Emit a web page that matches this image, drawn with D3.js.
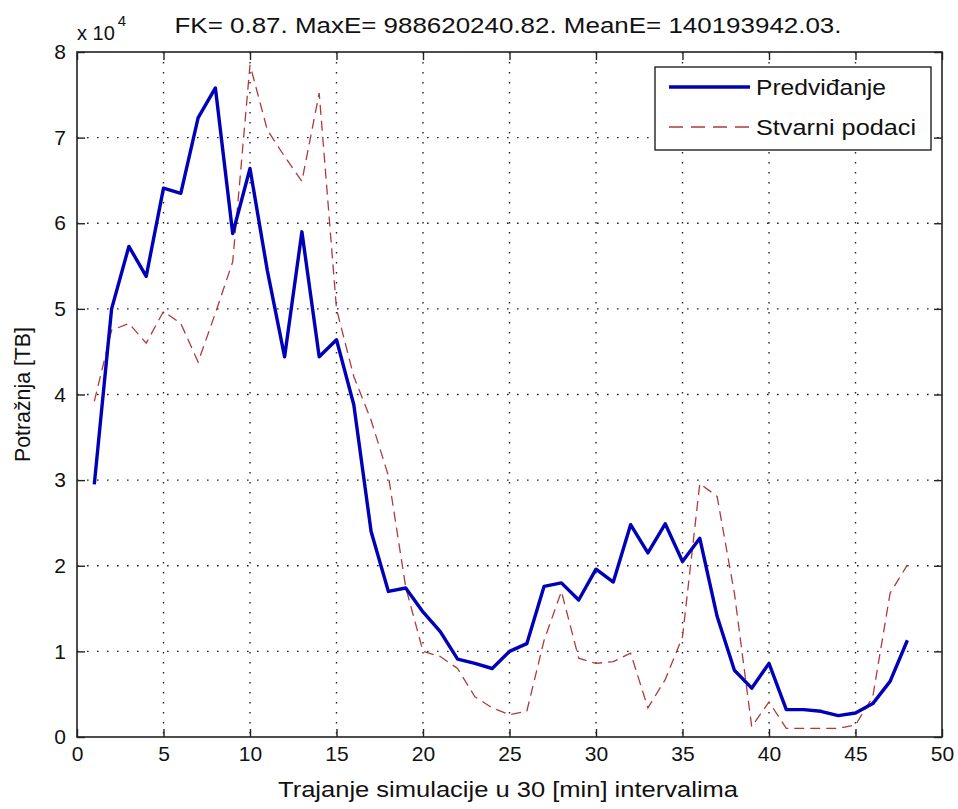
<!DOCTYPE html>
<html>
<head>
<meta charset="utf-8">
<script src="https://cdn.jsdelivr.net/npm/d3@7"></script>
<style>
  html, body { margin: 0; padding: 0; background: #ffffff; }
  svg { display: block; }
  text { font-family: "Liberation Sans", Arial, sans-serif; fill: #111; }
</style>
</head>
<body>
<svg id="chart" width="958" height="809"></svg>
<script>
// ---- data (values in units of 10^4 TB) ----
const intervals = [1,2,3,4,5,6,7,8,9,10,11,12,13,14,15,16,17,18,19,20,21,22,23,24,
                   25,26,27,28,29,30,31,32,33,34,35,36,37,38,39,40,41,42,43,44,45,46,47,48];
const predicted = [2.95,5.00,5.73,5.38,6.41,6.35,7.23,7.58,5.88,6.64,5.45,4.44,5.90,4.44,4.64,3.88,
                   2.40,1.70,1.74,1.46,1.23,0.91,0.86,0.80,1.00,1.09,1.76,1.80,1.60,1.96,1.81,2.48,
                   2.15,2.49,2.05,2.32,1.41,0.78,0.57,0.86,0.32,0.32,0.30,0.25,0.28,0.39,0.65,1.13];
const actual    = [3.92,4.75,4.83,4.60,4.97,4.83,4.38,4.95,5.55,7.85,7.09,6.78,6.49,7.52,5.00,4.21,
                   3.70,3.05,1.75,1.00,0.94,0.80,0.47,0.34,0.26,0.30,1.13,1.70,0.92,0.86,0.88,0.98,
                   0.34,0.67,1.17,2.96,2.81,1.68,0.12,0.41,0.10,0.10,0.10,0.10,0.14,0.47,1.68,2.01];
const xTicks = [0,5,10,15,20,25,30,35,40,45,50];
const yTicks = [0,1,2,3,4,5,6,7,8];
const seriesNames = ["Predviđanje", "Stvarni podaci"];
const titleText = "FK= 0.87. MaxE= 988620240.82. MeanE= 140193942.03.";
const xLabel = "Trajanje simulacije u 30 [min] intervalima";
const yLabel = "Potražnja [TB]";

// ---- layout ----
const L = 77, R = 942, T = 52, B = 737;
const svg = d3.select("#chart");
const x = d3.scaleLinear().domain([0, 50]).range([L, R]);
const y = d3.scaleLinear().domain([0, 8]).range([B, T]);

// grid
const grid = svg.append("g").attr("stroke", "#222").attr("stroke-width", 1.4)
  .attr("stroke-dasharray", "1.6,8.4");
grid.selectAll(".vg").data(xTicks.filter(d => d > 0 && d < 50)).join("line")
  .attr("x1", d => x(d)).attr("x2", d => x(d)).attr("y1", T).attr("y2", B);
grid.selectAll(".hg").data(yTicks.filter(d => d > 0 && d < 8)).join("line")
  .attr("x1", L).attr("x2", R).attr("y1", d => y(d)).attr("y2", d => y(d));

// lines
const lineA = d3.line().x((d, i) => x(intervals[i])).y(d => y(d));
svg.append("path").datum(actual).attr("d", lineA)
  .attr("fill", "none").attr("stroke", "#b03a3a").attr("stroke-width", 1.3)
  .attr("stroke-dasharray", "10,6");
svg.append("path").datum(predicted).attr("d", lineA)
  .attr("fill", "none").attr("stroke", "#0000b8").attr("stroke-width", 3.4)
  .attr("stroke-linejoin", "round");

// axes
const fs = 21;
const axB = svg.append("g").attr("transform", `translate(0,${B})`)
  .call(d3.axisBottom(x).tickValues(xTicks).tickSize(-8).tickPadding(9).tickFormat(d3.format("d")));
const axT = svg.append("g").attr("transform", `translate(0,${T})`)
  .call(d3.axisTop(x).tickValues(xTicks).tickSize(-8).tickFormat(""));
const axL = svg.append("g").attr("transform", `translate(${L},0)`)
  .call(d3.axisLeft(y).tickValues(yTicks).tickSize(-8).tickPadding(11).tickFormat(d3.format("d")));
const axR = svg.append("g").attr("transform", `translate(${R},0)`)
  .call(d3.axisRight(y).tickValues(yTicks).tickSize(-8).tickFormat(""));
[axB, axT, axL, axR].forEach(g => {
  g.select(".domain").remove();
  g.selectAll(".tick line").attr("stroke", "#222").attr("stroke-width", 1.4);
  g.selectAll("text").attr("font-size", fs).attr("fill", "#111")
    .attr("font-family", "'Liberation Sans', Arial, sans-serif");
});
axB.selectAll(".tick text").attr("dy", "0.71em");

// box
svg.append("rect").attr("x", L).attr("y", T).attr("width", R - L).attr("height", B - T)
  .attr("fill", "none").attr("stroke", "#222").attr("stroke-width", 1.6);

// title
svg.append("text").attr("x", 508).attr("y", 33).attr("text-anchor", "middle")
  .attr("font-size", 22).attr("textLength", 667).attr("lengthAdjust", "spacingAndGlyphs")
  .text(titleText);

// exponent
const ex = svg.append("text").attr("x", 77).attr("y", 40).attr("font-size", 20);
ex.append("tspan").text("x 10");
ex.append("tspan").attr("dy", -14).attr("dx", 3).attr("font-size", 15).text("4");

// axis labels
svg.append("text").attr("x", 508).attr("y", 797).attr("text-anchor", "middle")
  .attr("font-size", 22).attr("textLength", 460).attr("lengthAdjust", "spacingAndGlyphs")
  .text(xLabel);
svg.append("text").attr("transform", `translate(30,${(T + B) / 2}) rotate(-90)`)
  .attr("text-anchor", "middle").attr("font-size", 22)
  .attr("textLength", 135).attr("lengthAdjust", "spacingAndGlyphs")
  .text(yLabel);

// legend
const lg = svg.append("g");
lg.append("rect").attr("x", 655).attr("y", 67).attr("width", 276).attr("height", 83)
  .attr("fill", "#fff").attr("stroke", "#222").attr("stroke-width", 1.4);
const legendRows = [
  { name: seriesNames[0], color: "#0000b8", w: 3.4, dash: null, yy: 87, len: 130 },
  { name: seriesNames[1], color: "#b03a3a", w: 1.3, dash: "14,8", yy: 127, len: 160 }
];
legendRows.forEach(r => {
  lg.append("line").attr("x1", 669).attr("x2", 750).attr("y1", r.yy).attr("y2", r.yy)
    .attr("stroke", r.color).attr("stroke-width", r.w).attr("stroke-dasharray", r.dash);
  lg.append("text").attr("x", 756).attr("y", r.yy + 8).attr("font-size", 22)
    .attr("textLength", r.len).attr("lengthAdjust", "spacingAndGlyphs").text(r.name);
});
</script>
</body>
</html>
